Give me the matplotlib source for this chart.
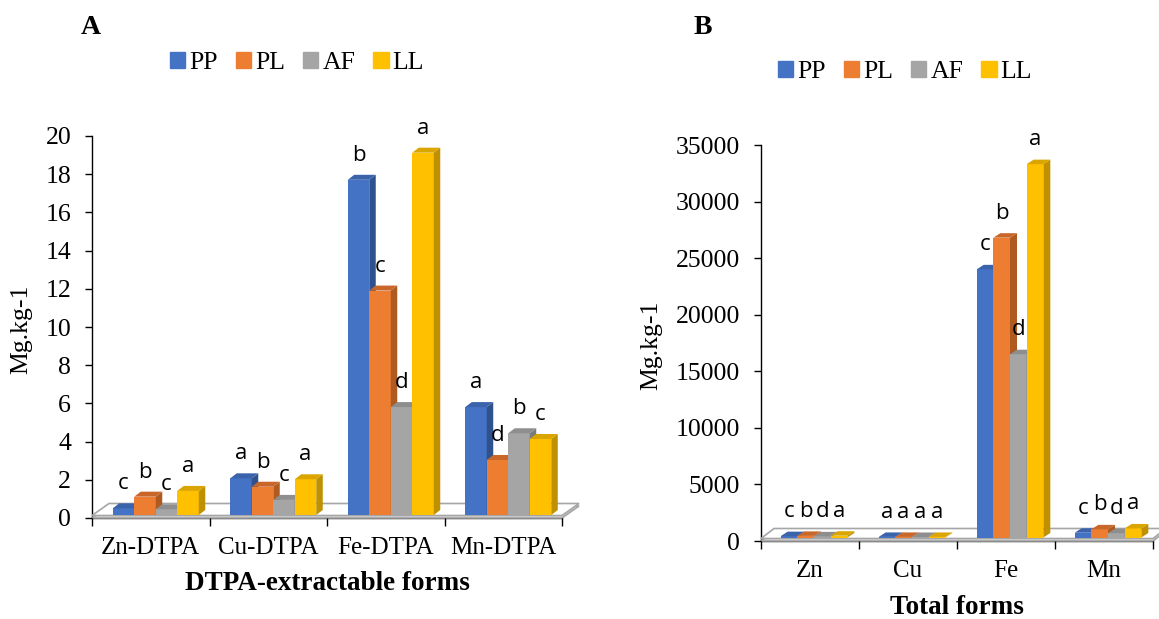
import matplotlib.pyplot as plt
from matplotlib.patches import Polygon, Patch

plt.rcParams['font.family'] = 'Liberation Serif'

treatments = ['PP', 'PL', 'AF', 'LL']
front_colors = ['#4472C4', '#ED7D31', '#A5A5A5', '#FFC000']
side_colors = ['#2F528F', '#AE5A21', '#7B7B7B', '#BF9000']
top_colors = ['#3A63AC', '#C9672A', '#8E8E8E', '#DBA500']

# Panel A: DTPA-extractable forms (Mg/kg)
dtpa_labels = ['Zn-DTPA', 'Cu-DTPA', 'Fe-DTPA', 'Mn-DTPA']
dtpa_pp = [0.35, 1.92, 17.55, 5.65]
dtpa_pl = [0.96, 1.48, 11.75, 2.88]
dtpa_af = [0.30, 0.79, 5.65, 4.28]
dtpa_ll = [1.26, 1.87, 18.97, 3.98]
dtpa_letters = [['c', 'b', 'c', 'a'], ['a', 'b', 'c', 'a'],
                ['b', 'c', 'd', 'a'], ['a', 'd', 'b', 'c']]
dtpa_yticks = list(range(0, 21, 2))

# Panel B: total forms (Mg/kg)
total_labels = ['Zn', 'Cu', 'Fe', 'Mn']
total_pp = [120, 50, 23700, 420]
total_pl = [140, 50, 26500, 720]
total_af = [100, 45, 16200, 380]
total_ll = [160, 50, 33000, 800]
total_letters = [['c', 'b', 'd', 'a'], ['a', 'a', 'a', 'a'],
                 ['c', 'b', 'd', 'a'], ['c', 'b', 'd', 'a']]
total_yticks = list(range(0, 35001, 5000))

W, H = 1159, 619
fig = plt.figure(figsize=(W / 100, H / 100), dpi=100)


def box(left, top, right, bottom):
    # pixel box (from top-left) -> figure fraction
    return [left / W, 1 - bottom / H, (right - left) / W, (bottom - top) / H]


def draw_panel(ax, labels, series, letters, yticks, bar_w, front_off, depth, floor):
    ymax = yticks[-1]
    n = len(labels)
    ax.set_xlim(0, n)
    ax.set_ylim(0, ymax)
    bb = ax.get_position()
    ux = n / (bb.width * W)      # data units per pixel
    uy = ymax / (bb.height * H)

    # floor slab
    fdx, fdy = floor
    for lift, face in [(0, '#d9d9d9'), (2.5, 'white')]:
        pts = [(0, lift * uy), (n, lift * uy),
               (n + fdx * ux, (lift + fdy) * uy), (fdx * ux, (lift + fdy) * uy)]
        ax.add_patch(Polygon(pts, closed=True, fc=face, ec='#a6a6a6', lw=1.2,
                             clip_on=False, zorder=1))

    sx, sy = front_off
    dx, dy = depth[0] * ux, depth[1] * uy
    base = sy * uy
    for j, values in enumerate(series):
        lefts = [i + 0.5 - 2 * bar_w + j * bar_w + sx * ux for i in range(n)]
        z = 3 + j
        ax.bar(lefts, values, width=bar_w, bottom=base, align='edge',
               color=front_colors[j], zorder=z, clip_on=False)
        for i, (x0, v) in enumerate(zip(lefts, values)):
            x1 = x0 + bar_w
            top = base + v
            ax.add_patch(Polygon([(x1, base), (x1, top), (x1 + dx, top + dy), (x1 + dx, base + dy)],
                                 closed=True, fc=side_colors[j], ec='none', zorder=z, clip_on=False))
            ax.add_patch(Polygon([(x0, top), (x1, top), (x1 + dx, top + dy), (x0 + dx, top + dy)],
                                 closed=True, fc=top_colors[j], ec='none', zorder=z, clip_on=False))
            ax.annotate(letters[i][j], xy=(x0 + bar_w / 2, top), xytext=(0, 19),
                        textcoords='offset pixels', ha='center', va='baseline',
                        fontfamily='Open Sans', fontsize=16, zorder=20, annotation_clip=False)

    for s in ['top', 'right']:
        ax.spines[s].set_visible(False)
    for s in ['left', 'bottom']:
        ax.spines[s].set_color('black')
        ax.spines[s].set_linewidth(1.0)
        ax.spines[s].set_zorder(0.5)
    ax.set_yticks(yticks)
    ax.tick_params(axis='y', labelsize=18.5, length=5, width=1, pad=10)
    ax.set_xticks(range(n + 1))
    ax.set_xticklabels([])
    ax.tick_params(axis='x', which='major', length=6, width=1)
    ax.set_xticks([i + 0.5 for i in range(n)], labels, minor=True)
    ax.tick_params(axis='x', which='minor', length=0, labelsize=18, pad=14)
    ax.patch.set_visible(False)


ax1 = fig.add_axes(box(92, 136, 562, 518))
draw_panel(ax1, dtpa_labels, [dtpa_pp, dtpa_pl, dtpa_af, dtpa_ll], dtpa_letters,
           dtpa_yticks, 0.183, (5, 3), (6.5, 5), (17, 12))

ax2 = fig.add_axes(box(761, 145, 1153, 541))
draw_panel(ax2, total_labels, [total_pp, total_pl, total_af, total_ll], total_letters,
           total_yticks, 0.17, (4, 3.5), (7, 4.5), (13, 10))

# titles, axis labels
fig.text(91 / W, 1 - 28 / H, 'A', fontsize=20, fontweight='bold', ha='center', va='center')
fig.text(703 / W, 1 - 27 / H, 'B', fontsize=20, fontweight='bold', ha='center', va='center')
fig.text(327 / W, 1 - 583 / H, 'DTPA-extractable forms', fontsize=19.5, fontweight='bold',
         ha='center', va='center')
fig.text(957 / W, 1 - 607 / H, 'Total forms', fontsize=19.5, fontweight='bold',
         ha='center', va='center')
fig.text(21 / W, 1 - 329 / H, 'Mg.kg-1', fontsize=18.5, rotation=90, ha='center', va='center')
fig.text(651 / W, 1 - 345 / H, 'Mg.kg-1', fontsize=18.5, rotation=90, ha='center', va='center')

handles = [Patch(color=c, label=t) for c, t in zip(front_colors, treatments)]
for cx, cy in [(297, 63), (905, 72)]:
    fig.legend(handles=handles, loc='center', bbox_to_anchor=(cx / W, 1 - cy / H),
               ncol=4, frameon=False, fontsize=18.5, handlelength=0.6, handleheight=0.6,
               handletextpad=0.15, columnspacing=0.7, borderaxespad=0, borderpad=0)

fig.savefig('out.png', dpi=100)
